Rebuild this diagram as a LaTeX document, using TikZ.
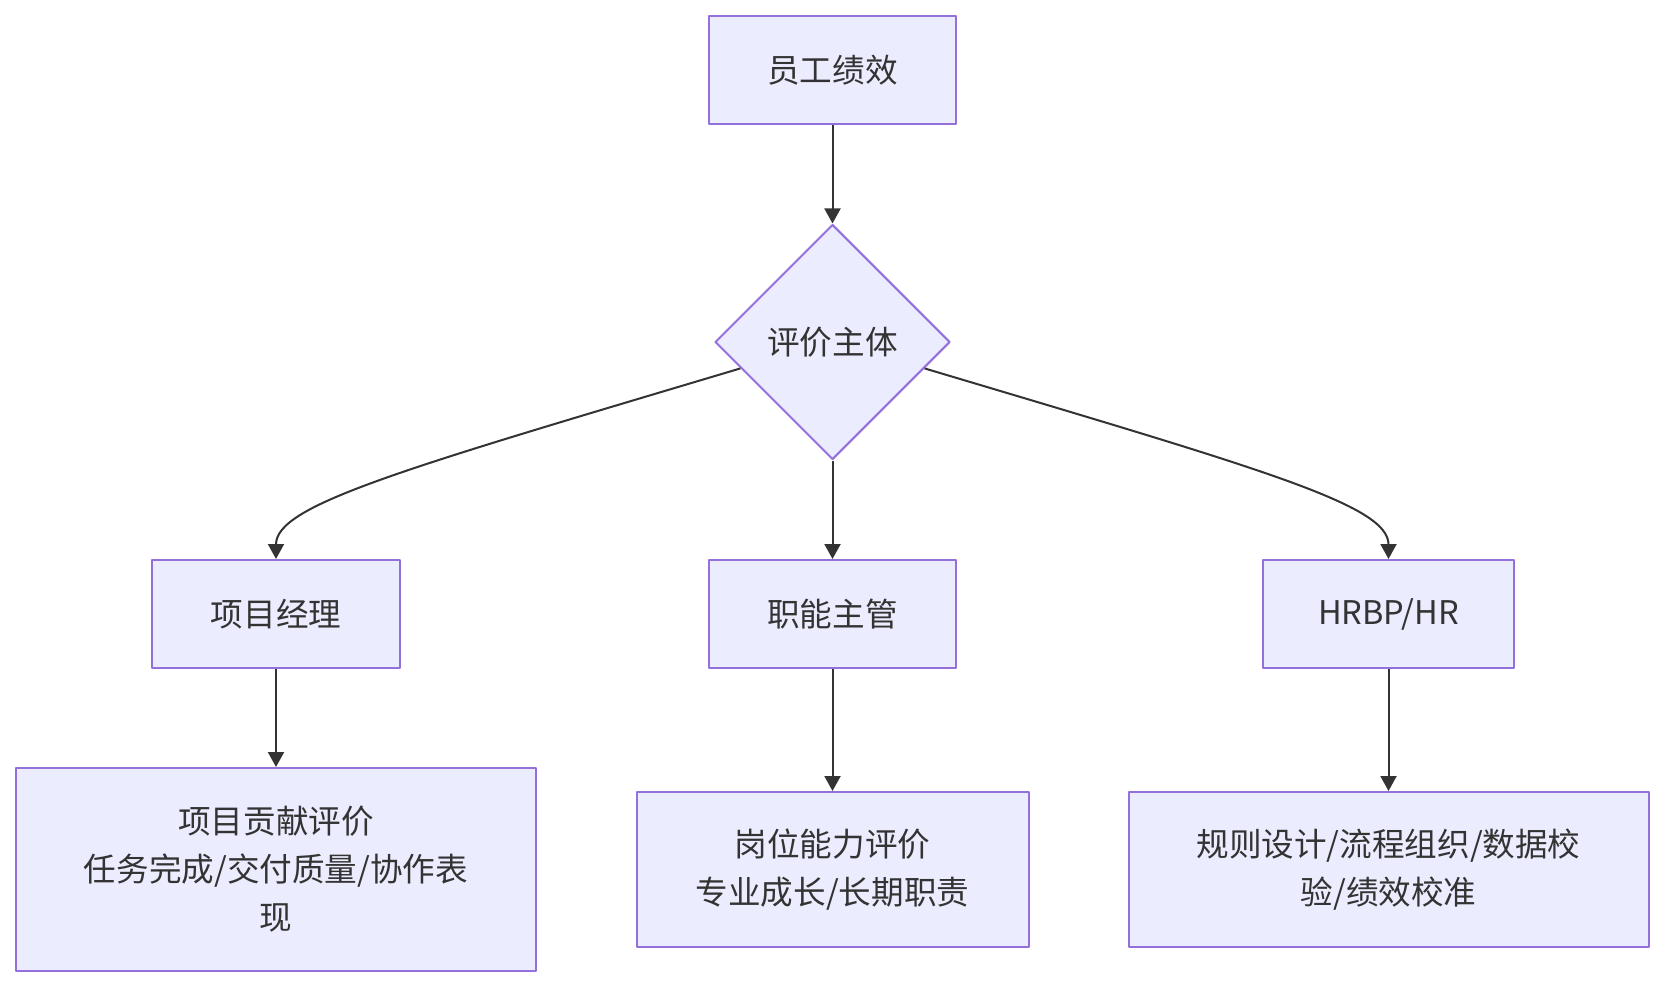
\documentclass[tikz,border=0pt]{standalone}
\usepackage{fontspec}
\setmainfont{Noto Sans CJK SC}
\usetikzlibrary{arrows.meta,shapes.geometric}

\begin{document}
\begin{tikzpicture}[x=0.5pt,y=-0.5pt,line join=round,line cap=round]

  % ---- colours ----
  \definecolor{boxfill}{HTML}{ECECFF}
  \definecolor{boxline}{HTML}{9370DB}
  \definecolor{linkgray}{HTML}{333333}

  \tikzset{
    box/.style={draw=boxline,fill=boxfill,line width=1pt,text=linkgray,
      font=\fontsize{16.3}{24}\selectfont,align=center,inner sep=0pt},
    choice/.style={box,diamond,aspect=1,minimum size=117.5pt},
    link/.style={draw=linkgray,line width=1pt,line cap=butt,
      -{Triangle[length=7.5pt,width=8pt]}},
  }

  \useasboundingbox (0,0) rectangle (1664,988);

  % ---- column centres and rows (pixels) ----
  \def\colL{276}
  \def\colM{832.5}
  \def\colR{1388.5}
  \def\rowTop{70}
  \def\rowEval{342}
  \def\rowWho{614}
  \def\rowWhat{869.5}

  % ---- top ----
  \node[box,minimum width=123.5pt,minimum height=54pt] (perf) at (\colM,\rowTop) {员工绩效};
  \node[choice] (eval) at (\colM,\rowEval) {评价主体};

  % ---- who evaluates ----
  \node[box,minimum width=124pt,minimum height=54pt] (pm) at (\colL,\rowWho) {项目经理};
  \node[box,minimum width=123.5pt,minimum height=54pt] (lead) at (\colM,\rowWho) {职能主管};
  \node[box,minimum width=125.5pt,minimum height=54pt] (hr) at (\colR,\rowWho) {HRBP/HR};

  % ---- what is evaluated ----
  \node[box,minimum width=260pt,minimum height=101.5pt] (pmwork) at (\colL,\rowWhat)
    {项目贡献评价\\任务完成/交付质量/协作表\\现};
  \node[box,minimum width=196pt,minimum height=77.5pt] (leadwork) at (\colM,\rowWhat)
    {岗位能力评价\\专业成长/长期职责};
  \node[box,minimum width=260pt,minimum height=77.5pt] (hrwork) at (\colR,\rowWhat)
    {规则设计/流程组织/数据校\\验/绩效校准};

  % ---- links ----
  \draw[link] (perf) -- (eval);
  \draw[link] (eval) -- (lead);
  \draw[link] (eval.196) .. controls (400,470) and (\colL,505) .. (pm.north);
  \draw[link] (eval.-16) .. controls (1265,470) and (\colR,505) .. (hr.north);
  \draw[link] (pm) -- (pmwork);
  \draw[link] (lead) -- (leadwork);
  \draw[link] (hr) -- (hrwork);

\end{tikzpicture}
\end{document}
